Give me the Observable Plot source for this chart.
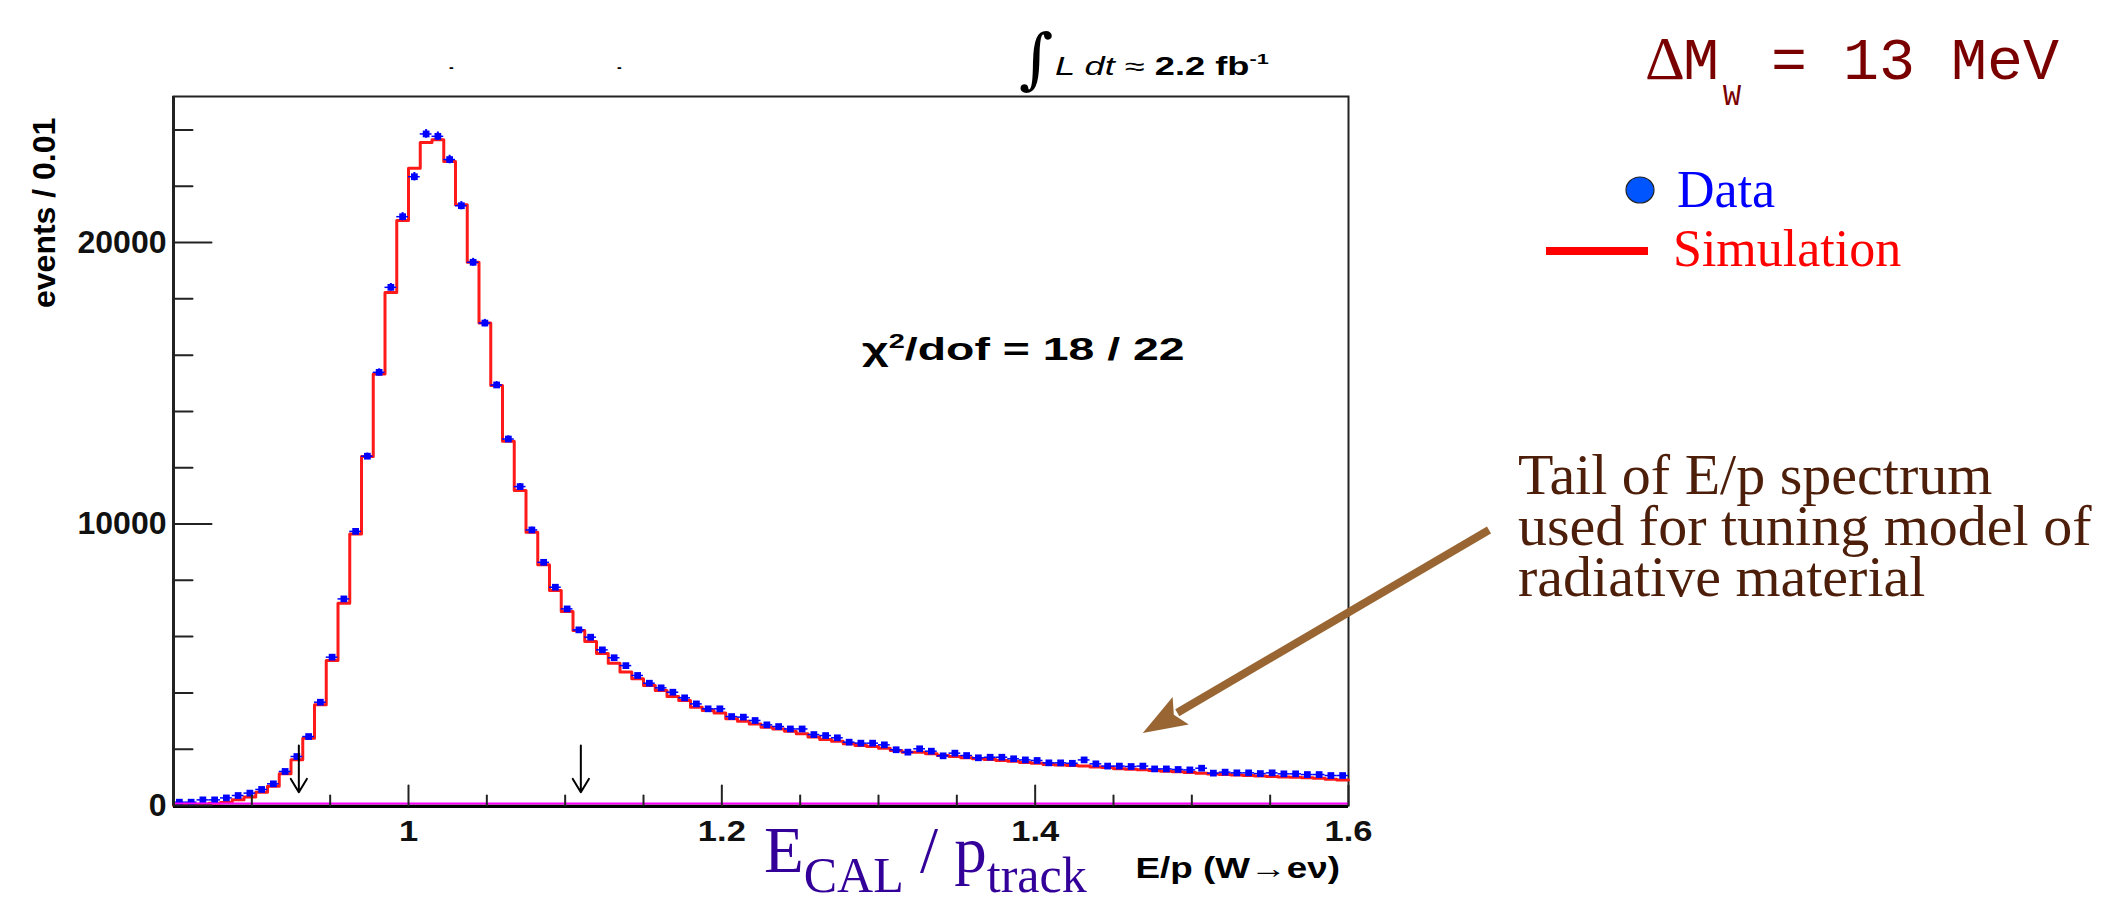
<!DOCTYPE html>
<html><head><meta charset="utf-8">
<script src="https://cdn.jsdelivr.net/npm/d3@7"></script>
<script src="https://cdn.jsdelivr.net/npm/@observablehq/plot@0.6"></script>
<style>
html,body{margin:0;padding:0;background:#fff;}
#chart{position:relative;width:2112px;height:901px;overflow:hidden;}
svg{display:block;}
</style></head><body><div id="chart"></div>
<script>
// Histogram binning (100 bins from 0.85 to 1.6)
const binStart = 0.85;
const binWidth = 0.0075;
const xDomain = [0.85, 1.6];
const yDomain = [0, 25190];

// Simulation (red histogram), events per bin
const simulation = [
  10, 20, 40, 80, 110, 200, 300, 470, 680, 1130,
  1625, 2390, 3580, 5150, 7190, 9650, 12400, 15330, 18230, 20780,
  22640, 23560, 23650, 22880, 21340, 19300, 17140, 14920, 12940, 11190,
  9710, 8550, 7640, 6890, 6215, 5825, 5400, 5050, 4740, 4500,
  4260, 4085, 3870, 3730, 3490, 3375, 3290, 3080, 2995, 2900,
  2780, 2720, 2640, 2545, 2430, 2345, 2285, 2190, 2130, 2095,
  2035, 1955, 1895, 1890, 1835, 1775, 1740, 1695, 1660, 1635,
  1600, 1570, 1530, 1500, 1460, 1440, 1420, 1400, 1370, 1350,
  1310, 1290, 1270, 1240, 1220, 1200, 1170, 1150, 1120, 1100,
  1080, 1065, 1050, 1030, 1010, 1000, 985, 965, 930, 905
];

// Data (blue points), events per bin
const dataCounts = [
  118, 118, 200, 200, 270, 355, 440, 570, 770, 1210,
  1740, 2450, 3670, 5270, 7340, 9740, 12410, 15390, 18410, 20920,
  22340, 23860, 23775, 22950, 21310, 19300, 17140, 14940, 13020, 11330,
  9790, 8640, 7755, 6985, 6240, 5980, 5530, 5250, 4970, 4620,
  4345, 4180, 4025, 3825, 3610, 3435, 3435, 3160, 3140, 3020,
  2865, 2805, 2720, 2720, 2520, 2485, 2405, 2250, 2215, 2215,
  2155, 1980, 1895, 2015, 1930, 1765, 1860, 1775, 1695, 1715,
  1715, 1660, 1620, 1600, 1515, 1515, 1500, 1620, 1480, 1400,
  1400, 1385, 1400, 1300, 1300, 1280, 1265, 1325, 1150, 1185,
  1160, 1160, 1135, 1160, 1125, 1125, 1100, 1100, 1065, 1065
];

// Axis ticks
const xMajorTicks = [1, 1.2, 1.4, 1.6];
const xMinorTicks = [0.9, 0.95, 1.05, 1.1, 1.15, 1.25, 1.3, 1.35, 1.45, 1.5, 1.55];
const yMajorTicks = [0, 10000, 20000];
const yMinorTicks = [2000, 4000, 6000, 8000, 12000, 14000, 16000, 18000, 22000, 24000];

// Cut arrows (E/p window) and annotation arrow, in data coordinates
const cutArrowX = [0.93, 1.11];
const cutArrowTop = 2130;
const cutArrowTip = 470;
const tailArrow = {x1: 1.69, y1: 9770, x2: 1.469, y2: 2560};

const rows = dataCounts.map((v, i) => ({
  x0: binStart + i * binWidth,
  x1: binStart + (i + 1) * binWidth,
  xc: binStart + (i + 0.5) * binWidth,
  data: v,
  sim: simulation[i]
}));
const simLine = rows.map(r => ({x: r.x0, y: r.sim}));
simLine.push({x: rows[rows.length - 1].x1, y: rows[rows.length - 1].sim});

const sans = "'Liberation Sans', Arial, Helvetica, sans-serif";
const serif = "'Liberation Serif', 'Times New Roman', serif";
const mono = "'Liberation Mono', 'Courier New', monospace";

// plain line shape for tick vectors
const tickShape = {draw(context, l) { context.moveTo(0, 0); context.lineTo(0, -l); }};

const plot = Plot.plot({
  width: 2112,
  height: 901,
  marginLeft: 173,
  marginRight: 764,
  marginTop: 96,
  marginBottom: 96,
  style: {background: "white", overflow: "visible"},
  x: {domain: xDomain},
  y: {domain: yDomain},
  marks: [
    Plot.frame({stroke: "#222", strokeWidth: 2}),
    Plot.line(simLine, {x: "x", y: "y", curve: "step-after", stroke: "#ff1a1a", strokeWidth: 3}),
    Plot.ruleY(rows, {y: "data", x1: "x0", x2: "x1", stroke: "#0000ff", strokeWidth: 1.5}),
    Plot.ruleX(rows, {x: "xc", y1: d => d.data - Math.sqrt(d.data), y2: d => d.data + Math.sqrt(d.data), stroke: "#0000ff", strokeWidth: 2}),
    Plot.dot(rows, {x: "xc", y: "data", symbol: "square", r: 3.8, fill: "#0000ff", stroke: null}),
    Plot.ruleY([0], {stroke: "#000", strokeWidth: 3, dy: 1}),
    Plot.ruleY([0], {stroke: "#ff00ff", strokeWidth: 2, dy: -2}),
    Plot.ruleX([xDomain[0]], {stroke: "#222", strokeWidth: 3}),
    Plot.vector(yMajorTicks, {y: d => d, frameAnchor: "left", length: 38, rotate: 90, anchor: "start", shape: tickShape, stroke: "#222", strokeWidth: 2}),
    Plot.vector(yMinorTicks, {y: d => d, frameAnchor: "left", length: 19, rotate: 90, anchor: "start", shape: tickShape, stroke: "#222", strokeWidth: 2}),
    Plot.vector(xMajorTicks, {x: d => d, frameAnchor: "bottom", length: 20, rotate: 0, anchor: "start", shape: tickShape, stroke: "#222", strokeWidth: 2}),
    Plot.vector(xMinorTicks, {x: d => d, frameAnchor: "bottom", length: 10, rotate: 0, anchor: "start", shape: tickShape, stroke: "#222", strokeWidth: 2}),
    Plot.axisY(yMajorTicks, {tickSize: 0, tickPadding: 7, label: null, fontSize: 32, fontWeight: "bold", fontFamily: sans, fill: "#111", tickFormat: d => String(d)}),
    Plot.axisX(xMajorTicks, {tickSize: 0, tickPadding: 14, label: null, fontSize: 30, fontWeight: "bold", fontFamily: sans, fill: "#111", tickFormat: d => String(d)}),
    Plot.arrow(cutArrowX, {x: d => d, y1: cutArrowTop, y2: cutArrowTip, stroke: "#000", strokeWidth: 2, headLength: 17, headAngle: 62})
  ]
});

document.getElementById("chart").appendChild(plot);

const svg = d3.select(plot);
// ROOT's x tick labels are slightly stretched horizontally in the reference
svg.selectAll("g[aria-label='x-axis tick label'] text").each(function () {
  const t = d3.select(this);
  t.attr("transform", (t.attr("transform") || "") + " scale(1.15,1)");
});
const sx = plot.scale("x"), sy = plot.scale("y");
const g = svg.append("g").attr("text-anchor", "start");

// Tail annotation arrow (filled head)
{
  const x1 = sx.apply(tailArrow.x1), y1 = sy.apply(tailArrow.y1);
  const x2 = sx.apply(tailArrow.x2), y2 = sy.apply(tailArrow.y2);
  const dx = x2 - x1, dy = y2 - y1, L = Math.hypot(dx, dy);
  const ux = dx / L, uy = dy / L, px = -uy, py = ux;
  const hl = 44, hw = 16;
  const bx = x2 - ux * hl, by = y2 - uy * hl;
  g.append("line").attr("x1", x1).attr("y1", y1).attr("x2", bx + ux * 4).attr("y2", by + uy * 4)
    .attr("stroke", "#996633").attr("stroke-width", 8);
  g.append("polygon").attr("points", `${x2},${y2} ${bx + px * hw},${by + py * hw} ${bx + ux * 8},${by + uy * 8} ${bx - px * hw},${by - py * hw}`)
    .attr("fill", "#996633");
}

function txt(x, y, s, o = {}) {
  const t = g.append("text").attr("x", x).attr("y", y).text(s)
    .attr("font-family", o.family || sans).attr("font-size", o.size || 30)
    .attr("fill", o.fill || "#000").attr("text-anchor", o.anchor || "start");
  if (o.weight) t.attr("font-weight", o.weight);
  if (o.style) t.attr("font-style", o.style);
  if (o.transform) t.attr("transform", o.transform);
  return t;
}

// y-axis title
txt(0, 0, "events / 0.01", {size: 32, weight: "bold", transform: "translate(55,308) rotate(-90)"});
// x-axis title (ROOT text is horizontally stretched in the reference)
txt(0, 0, "E/p (W\u2192e\u03bd)", {size: 29, weight: "bold", anchor: "end", transform: "translate(1340,878) scale(1.27,1)"});
// chi2
{
  const t = txt(0, 0, "\u03c7", {size: 32, weight: "bold", transform: "translate(862,360) scale(1.45,1)"});
  t.append("tspan").attr("dy", -12).attr("font-size", 20).text("2");
  t.append("tspan").attr("dy", 12).text("/dof = 18 / 22");
}
// luminosity
txt(1019, 81, "\u222b", {size: 66, family: "'DejaVu Serif', serif"});
{
  const t = txt(0, 0, "L dt", {size: 25, style: "italic", transform: "translate(1055,75) scale(1.45,1)"});
  t.append("tspan").attr("font-style", "normal").text(" \u2248 ");
  t.append("tspan").attr("font-style", "normal").attr("font-weight", "bold").text("2.2 fb");
  t.append("tspan").attr("font-style", "normal").attr("font-weight", "bold").attr("font-size", 15).attr("dy", -11).text("-1");
}
txt(449, 72, "-", {size: 14, weight: "bold"});
txt(617, 72, "-", {size: 14, weight: "bold"});

// Delta M_W
txt(1645, 79, "\u0394", {size: 62, family: serif, fill: "#7a0000"});
txt(1683, 79, "M", {size: 60, family: mono, fill: "#7a0000"});
txt(1723, 105, "W", {size: 30, family: mono, fill: "#7a0000"});
txt(1771, 79, "= 13 MeV", {size: 60, family: mono, fill: "#7a0000"});

// legend
g.append("ellipse").attr("cx", 1640).attr("cy", 190).attr("rx", 14).attr("ry", 13)
  .attr("fill", "#0055ff").attr("stroke", "#222").attr("stroke-width", 1.2);
txt(1677, 207, "Data", {size: 52, family: serif, fill: "#0000ff"});
g.append("line").attr("x1", 1546).attr("x2", 1648).attr("y1", 251).attr("y2", 251)
  .attr("stroke", "#ff0000").attr("stroke-width", 8);
txt(1673, 266, "Simulation", {size: 52, family: serif, fill: "#ff0000"});

// tail note
const note = ["Tail of E/p spectrum", "used for tuning model of", "radiative material"];
note.forEach((s, i) => txt(1518, 494 + i * 51, s, {size: 58, family: serif, fill: "#4d1f0a"}));

// E_CAL / p_track
{
  const c = "#330099";
  const t = txt(764, 872, "E", {size: 65, family: serif, fill: c});
  t.append("tspan").attr("dy", 20).attr("font-size", 50).text("CAL");
  t.append("tspan").attr("dy", -20).text(" / p");
  t.append("tspan").attr("dy", 20).attr("font-size", 50).text("track");
}
</script>
</body></html>
